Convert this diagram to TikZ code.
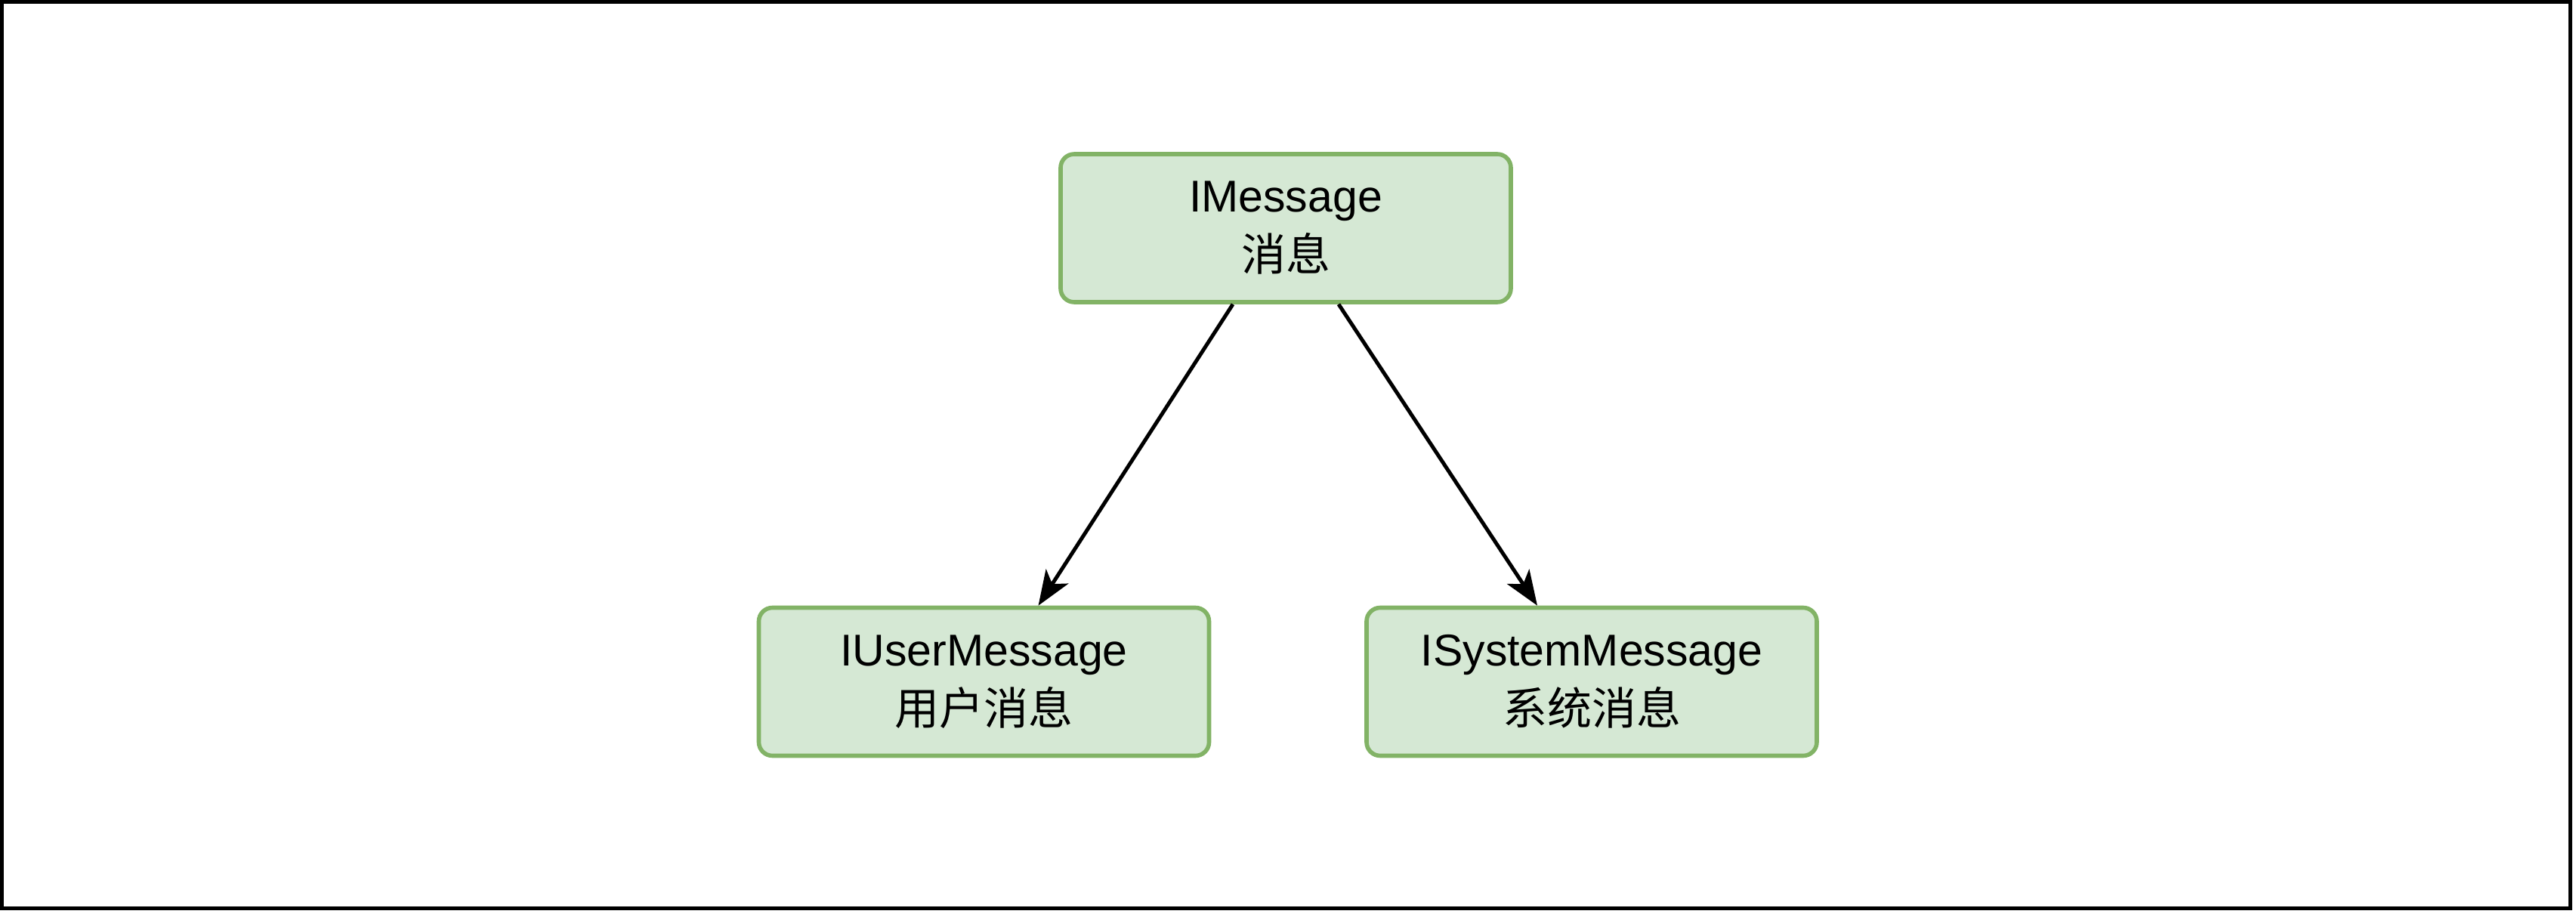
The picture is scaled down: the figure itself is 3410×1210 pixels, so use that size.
\documentclass[tikz,border=0pt]{standalone}
\usepackage{fontspec}
\setmainfont{Liberation Sans}
\newfontfamily\cjk{Noto Sans CJK SC}
\usetikzlibrary{arrows.meta,calc}
\definecolor{boxfill}{HTML}{D5E8D4}
\definecolor{boxstroke}{HTML}{82B366}
\begin{document}
\begin{tikzpicture}[x=0.25pt,y=-0.25pt,
  box/.style={draw=boxstroke, fill=boxfill, line width=1.4pt, rounded corners=4.5pt,
    minimum width=149pt, minimum height=49pt, align=center, inner sep=0pt,
    font=\fontsize{14.75}{19.5}\selectfont},
  link/.style={line width=1.25pt, -{Stealth[length=11.5pt,width=8.8pt,inset=3pt]}}]
\useasboundingbox (0,0) rectangle (3410,1210);
\draw[line width=1.25pt] (2.5,2.5) rectangle (3402.5,1202.5);
\node[box] (m) at (1702,302) {IMessage\\{\cjk 消息}};
\node[box] (u) at (1302.5,902.5) {IUserMessage\\{\cjk 用户消息}};
\node[box] (s) at (2107,902.5) {ISystemMessage\\{\cjk 系统消息}};
\draw[link] ($(m.south)+(-70,0)$) -- ($(u.north)+(72,0)$);
\draw[link] ($(m.south)+(70,0)$) -- ($(s.north)+(-72,0)$);
\end{tikzpicture}
\end{document}
